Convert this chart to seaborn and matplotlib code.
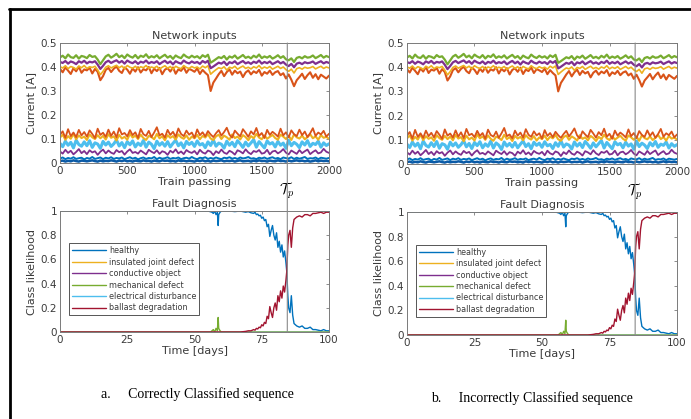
import numpy as np
import matplotlib
matplotlib.use("Agg")
import matplotlib.pyplot as plt
from matplotlib.patches import ConnectionPatch
from matplotlib.lines import Line2D
from matplotlib.ticker import FormatStrFormatter
import seaborn as sns

# ---- Network inputs (current in mA, one value every 20 train passings) ----
train_pass = np.arange(0, 2001, 20)

green_hi = [440, 447, 436, 452, 441, 438, 449, 435, 446, 443,
            437, 450, 442, 445, 431, 412, 428, 444, 451, 439,
            446, 455, 441, 448, 437, 452, 444, 439, 450, 436,
            447, 442, 453, 438, 445, 440, 449, 436, 444, 451,
            439, 446, 434, 448, 441, 437, 452, 443, 438, 447,
            440, 445, 436, 449, 442, 451, 418, 425, 433, 441,
            437, 446, 431, 444, 439, 448, 435, 442, 450, 438,
            443, 436, 447, 440, 452, 437, 444, 439, 446, 435,
            441, 449, 438, 445, 432, 428, 436, 421, 438, 442,
            436, 445, 439, 441, 448, 437, 443, 450, 439, 446, 441]
purple_hi = [421, 417, 425, 414, 423, 419, 412, 424, 418, 426,
             415, 422, 419, 424, 410, 392, 405, 420, 426, 417,
             423, 428, 418, 425, 414, 427, 420, 416, 424, 413,
             422, 418, 427, 415, 421, 417, 424, 412, 420, 426,
             416, 423, 411, 424, 418, 414, 427, 419, 415, 423,
             417, 421, 413, 425, 418, 426, 395, 402, 410, 418,
             414, 422, 408, 420, 416, 424, 412, 419, 425, 415,
             420, 413, 422, 417, 427, 414, 421, 416, 423, 412,
             418, 424, 415, 421, 410, 404, 413, 399, 414, 418,
             412, 420, 416, 418, 423, 413, 419, 424, 415, 421, 417]
yellow_hi = [401, 396, 405, 393, 402, 398, 391, 404, 397, 406,
             394, 401, 398, 403, 388, 368, 382, 399, 405, 396,
             402, 407, 397, 404, 393, 406, 399, 395, 403, 392,
             401, 397, 406, 394, 400, 396, 403, 391, 399, 405,
             395, 402, 390, 403, 397, 393, 406, 398, 394, 402,
             396, 400, 392, 404, 397, 405, 370, 380, 389, 397,
             393, 401, 387, 399, 395, 403, 391, 398, 404, 394,
             399, 392, 401, 396, 406, 393, 400, 395, 402, 391,
             397, 403, 394, 400, 389, 382, 391, 375, 393, 397,
             391, 399, 395, 397, 402, 392, 398, 403, 394, 400, 396]
orange_hi = [392, 378, 398, 385, 371, 395, 382, 401, 376, 390,
             386, 397, 373, 392, 380, 345, 362, 388, 396, 379,
             393, 402, 384, 375, 398, 389, 372, 394, 381, 399,
             377, 391, 386, 400, 374, 393, 383, 396, 370, 389,
             395, 381, 398, 372, 390, 384, 399, 376, 392, 387,
             380, 394, 371, 388, 376, 366, 300, 335, 352, 370,
             384, 362, 379, 390, 368, 385, 374, 381, 358, 377,
             386, 369, 382, 375, 388, 364, 379, 372, 385, 367,
             378, 383, 366, 374, 352, 369, 347, 320, 345, 358,
             372, 350, 366, 378, 355, 370, 349, 368, 360, 352, 364]
orange_lo = [118, 132, 105, 141, 112, 127, 108, 138, 115, 129,
             110, 136, 121, 104, 143, 117, 126, 109, 139, 113,
             131, 107, 145, 119, 125, 111, 137, 116, 128, 104,
             142, 120, 113, 134, 108, 127, 149, 115, 122, 106,
             138, 117, 130, 109, 144, 121, 112, 135, 118, 127,
             105, 140, 116, 128, 111, 133, 119, 108, 124, 137,
             114, 129, 147, 118, 106, 135, 122, 111, 141, 126,
             109, 132, 119, 146, 113, 125, 104, 138, 117, 130,
             121, 110, 143, 115, 128, 107, 136, 120, 112, 139,
             116, 131, 108, 124, 145, 113, 127, 119, 134, 110, 122]
yellow_lo = [106, 118, 97, 112, 101, 121, 99, 115, 104, 110,
             96, 119, 107, 100, 116, 103, 113, 98, 120, 105,
             111, 94, 117, 102, 109, 97, 122, 106, 114, 100,
             118, 104, 96, 113, 108, 99, 121, 103, 111, 95,
             116, 105, 112, 98, 119, 107, 101, 115, 97, 110,
             103, 117, 99, 113, 106, 120, 102, 96, 111, 118,
             100, 114, 107, 97, 119, 104, 110, 98, 116, 108,
             95, 112, 103, 121, 106, 99, 115, 101, 109, 117,
             104, 97, 118, 110, 100, 113, 96, 119, 107, 102,
             114, 99, 108, 120, 103, 111, 97, 116, 105, 109, 101]
cyan_lo = [82, 68, 91, 74, 86, 63, 95, 77, 70, 88,
           72, 93, 65, 84, 79, 61, 90, 75, 87, 69,
           80, 96, 71, 85, 64, 89, 76, 92, 67, 83,
           73, 94, 66, 87, 78, 60, 91, 74, 85, 70,
           89, 67, 82, 95, 72, 84, 63, 90, 77, 86,
           69, 92, 75, 81, 64, 88, 73, 96, 70, 83,
           78, 62, 91, 74, 86, 68, 93, 80, 65, 87,
           71, 84, 97, 66, 89, 76, 63, 92, 79, 85,
           67, 90, 74, 83, 61, 95, 72, 86, 78, 64,
           88, 75, 93, 69, 82, 77, 91, 66, 84, 73, 80]
purple_lo = [48, 39, 55, 42, 51, 36, 46, 58, 41, 50,
             37, 53, 44, 49, 34, 47, 56, 40, 52, 43,
             38, 54, 45, 50, 35, 48, 57, 42, 46, 39,
             52, 44, 36, 55, 47, 41, 53, 38, 49, 45,
             34, 51, 43, 57, 40, 48, 37, 54, 46, 42,
             50, 36, 55, 44, 39, 52, 47, 33, 49, 41,
             56, 43, 38, 51, 45, 35, 53, 48, 40, 57,
             44, 37, 50, 46, 54, 39, 42, 55, 36, 48,
             51, 40, 47, 58, 43, 36, 52, 45, 38, 54,
             41, 49, 56, 37, 46, 53, 40, 44, 59, 47, 42]
blue_lo = [19, 23, 16, 21, 18, 24, 17, 20, 22, 15,
           21, 18, 25, 17, 20, 23, 16, 22, 19, 24,
           17, 21, 19, 23, 16, 20, 24, 18, 22, 15,
           20, 23, 17, 21, 19, 25, 16, 22, 18, 20,
           24, 17, 21, 19, 23, 16, 20, 22, 18, 25,
           19, 16, 22, 20, 24, 17, 21, 18, 23, 19,
           16, 22, 20, 24, 18, 21, 17, 23, 19, 21,
           25, 18, 20, 16, 22, 19, 23, 17, 21, 24,
           18, 21, 16, 23, 20, 19, 24, 17, 22, 18,
           21, 25, 17, 20, 19, 23, 16, 22, 20, 18, 21]
blue_min = [8, 10, 6, 9, 7, 11, 8, 6, 10, 9,
            7, 9, 11, 8, 6, 10, 7, 9, 8, 11,
            9, 6, 10, 8, 11, 7, 9, 6, 10, 8,
            7, 11, 8, 9, 6, 10, 8, 7, 11, 9,
            10, 7, 9, 6, 11, 8, 10, 7, 9, 8,
            6, 10, 8, 11, 7, 9, 6, 10, 8, 9,
            11, 7, 9, 8, 10, 6, 9, 11, 7, 8,
            9, 6, 10, 7, 11, 8, 9, 6, 10, 8,
            7, 11, 8, 9, 6, 10, 7, 9, 11, 8,
            10, 7, 9, 6, 8, 11, 7, 10, 8, 9, 7]

# (series, colour, line width)
inputs = [(blue_min, "#0b5aa6", 1.8), (blue_lo, "#0072BD", 1.4),
          (purple_lo, "#7E2F8E", 1.3), (cyan_lo, "#4DBEEE", 2.2),
          (yellow_lo, "#EDB120", 1.5), (orange_lo, "#D95319", 1.3),
          (orange_hi, "#D95319", 1.5), (yellow_hi, "#EDB120", 1.2),
          (purple_hi, "#7E2F8E", 1.6), (green_hi, "#77AC30", 1.6)]

# ---- Fault diagnosis (class likelihood per day) ----
diag_days = [0, 20, 40, 55, 56.5, 57, 57.5, 58, 58.5, 58.8, 59, 59.5, 60, 61, 63, 65,
             67, 69, 70, 71, 72, 72.5, 73, 73.5, 74, 74.5, 75, 75.5, 76, 76.5, 77,
             77.5, 78, 78.5, 79, 79.5, 80, 80.5, 81, 81.5, 82, 82.5, 83, 83.5, 84,
             84.3, 84.7, 85, 85.5, 86, 86.5, 87, 87.5, 88, 89, 90, 91, 92, 93, 94,
             95, 96, 97, 98, 99, 100]
healthy = [1.0, 1.0, 1.0, 1.0, 0.99, 0.98, 1.0, 0.97, 0.99, 0.88, 0.97, 0.99, 1.0,
           1.0, 1.0, 0.995, 1.0, 0.99, 0.995, 0.985,
           0.98, 0.99, 0.97, 0.975, 0.96, 0.965, 0.94, 0.95, 0.92, 0.93,
           0.87, 0.89, 0.79, 0.84, 0.88, 0.80, 0.76, 0.82, 0.70, 0.75,
           0.66, 0.72, 0.62, 0.67, 0.57, 0.50, 0.30, 0.20, 0.16, 0.30,
           0.14, 0.07, 0.06, 0.05, 0.04, 0.05, 0.03, 0.03, 0.04, 0.02,
           0.02, 0.015, 0.01, 0.02, 0.01, 0.01]
ballast = [0, 0, 0, 0, 0, 0, 0, 0, 0, 0, 0, 0, 0, 0, 0, 0, 0, 0.005, 0.01, 0.01,
           0.02, 0.015, 0.03, 0.025, 0.04, 0.035, 0.06, 0.05, 0.08, 0.07,
           0.13, 0.11, 0.21, 0.16, 0.12, 0.20, 0.24, 0.18, 0.30, 0.25,
           0.34, 0.28, 0.38, 0.33, 0.43, 0.50, 0.72, 0.80, 0.84, 0.70,
           0.86, 0.93, 0.94, 0.95, 0.96, 0.95, 0.97, 0.97, 0.96, 0.98,
           0.98, 0.985, 0.99, 0.98, 0.99, 0.99]
mech_days = [0, 56, 56.5, 57, 57.5, 58, 58.5, 58.8, 59, 59.5, 60, 100]
mechanical = [0, 0, 0.01, 0.02, 0.0, 0.03, 0.01, 0.12, 0.03, 0.01, 0, 0]
flat_days = [0, 100]
insulated = [0, 0]
conductive = [0, 0]
electrical = [0, 0]

classes = [("healthy", diag_days, healthy, "#0072BD"),
           ("insulated joint defect", flat_days, insulated, "#EDB120"),
           ("conductive object", flat_days, conductive, "#7E2F8E"),
           ("mechanical defect", mech_days, mechanical, "#77AC30"),
           ("electrical disturbance", flat_days, electrical, "#4DBEEE"),
           ("ballast degradation", diag_days, ballast, "#A2142F")]

tau_pass = 1690
tau_day = 84.5
captions = ["a.     Correctly Classified sequence", "b.     Incorrectly Classified sequence"]

sns.set_style("white")
plt.rcParams["font.family"] = ["DejaVu Sans"]

fig = plt.figure(figsize=(6.91, 4.19), dpi=100)

spine_c = "#7a7a7a"
text_c = "#3a3a3a"


def style(ax):
    for s in ax.spines.values():
        s.set_color(spine_c)
        s.set_linewidth(0.7)
    ax.tick_params(direction="in", length=2.5, width=0.6, color=spine_c,
                   labelcolor=text_c, labelsize=7.5, top=True, right=True, pad=2)


# pixel layout of the two columns: x0, x1, top-axes top/bottom, bottom-axes top/bottom,
# caption centre x, caption y
layout = [
    (60, 329, 43, 163, 211, 332, 197, 394),
    (407, 677, 43, 164, 212, 335, 532, 398),
]
W, H = 691, 419

for col, (x0, x1, tt, tb, bt, bb, cap_x, cap_y) in enumerate(layout):
    ax_t = fig.add_axes([x0 / W, 1 - tb / H, (x1 - x0) / W, (tb - tt) / H])
    ax_b = fig.add_axes([x0 / W, 1 - bb / H, (x1 - x0) / W, (bb - bt) / H])

    for vals, c, lw in inputs:
        sns.lineplot(x=train_pass, y=np.array(vals) / 1000, ax=ax_t, color=c,
                     linewidth=lw, legend=False)
    ax_t.set_xlim(0, 2000)
    ax_t.set_ylim(0, 0.5)
    ax_t.set_xticks([0, 500, 1000, 1500, 2000])
    ax_t.set_yticks([0, 0.1, 0.2, 0.3, 0.4, 0.5])
    ax_t.yaxis.set_major_formatter(FormatStrFormatter("%g"))
    ax_t.set_title("Network inputs", fontsize=8, color=text_c, pad=3)
    ax_t.set_xlabel("Train passing", fontsize=8, color=text_c, labelpad=1)
    ax_t.set_ylabel("Current [A]", fontsize=8, color=text_c, labelpad=3)
    style(ax_t)
    ax_t.annotate(r"$\mathcal{T}_p$", xy=(tau_pass, -0.23),
                  xycoords=("data", "axes fraction"), ha="center", va="center",
                  fontsize=10.5, color="black", math_fontfamily="cm")

    for name, d, v, c in classes:
        sns.lineplot(x=d, y=v, ax=ax_b, color=c, linewidth=1.0, label=name)
    ax_b.set_xlim(0, 100)
    ax_b.set_ylim(0, 1)
    ax_b.set_xticks([0, 25, 50, 75, 100])
    ax_b.set_yticks([0, 0.2, 0.4, 0.6, 0.8, 1])
    ax_b.yaxis.set_major_formatter(FormatStrFormatter("%g"))
    ax_b.set_title("Fault Diagnosis", fontsize=8, color=text_c, pad=3)
    ax_b.set_xlabel("Time [days]", fontsize=8, color=text_c, labelpad=1)
    ax_b.set_ylabel("Class likelihood", fontsize=8, color=text_c, labelpad=3)
    style(ax_b)
    leg = ax_b.legend(loc="upper left", bbox_to_anchor=(0.02, 0.765), fontsize=5.8,
                      handlelength=4.2, labelspacing=0.3, borderpad=0.35,
                      handletextpad=0.4, fancybox=False, framealpha=1)
    leg.get_frame().set_edgecolor("#555555")
    leg.get_frame().set_linewidth(0.7)
    for t in leg.get_texts():
        t.set_color(text_c)

    con = ConnectionPatch(xyA=(tau_pass, 0.5), coordsA=ax_t.transData,
                          xyB=(tau_day, 0), coordsB=ax_b.transData,
                          color="#8a8a8a", linewidth=0.8, zorder=10)
    fig.add_artist(con)

    fig.text(cap_x / W, 1 - cap_y / H, captions[col], ha="center",
             va="center", fontsize=10, family="Liberation Serif", color="black")

# page frame (left and top edges)
fig.add_artist(Line2D([10 / W, 10 / W], [0, 1 - 9 / H], transform=fig.transFigure,
                      color="black", linewidth=2))
fig.add_artist(Line2D([9 / W, 1], [1 - 9 / H, 1 - 9 / H], transform=fig.transFigure,
                      color="black", linewidth=2))

fig.savefig("out.png", dpi=100)
